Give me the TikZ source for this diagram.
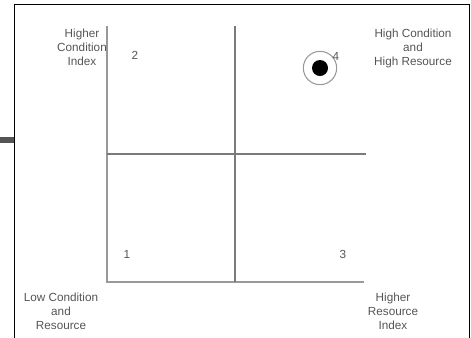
\documentclass[tikz,border=0pt]{standalone}
\usepackage{fontspec}
\setmainfont{Liberation Sans}
\usetikzlibrary{positioning}
\definecolor{labelgray}{HTML}{555555}
\definecolor{axisgray}{HTML}{999999}
\definecolor{midgray}{HTML}{7A7A7A}
\definecolor{tabgray}{HTML}{555555}

\begin{document}
\begin{tikzpicture}[
  x=0.75pt,y=-0.75pt,
  lbl/.style={align=center,text=labelgray,inner sep=0pt,
    font=\fontsize{8.8}{10.5}\selectfont},
  num/.style={text=labelgray,inner sep=0pt,font=\fontsize{8.8}{9}\selectfont},
  axis/.style={draw=axisgray,line width=1.1pt},
  divider/.style={draw=midgray,line width=1.5pt}
]
  \useasboundingbox (0,0) rectangle (471,337);
  % frame and tab
  \fill[tabgray] (0,137) rectangle (14,143);
  \draw[black,line width=1.1pt] (14.5,345) -- (14.5,4.5) -- (469.5,4.5) -- (469.5,345);
  % grid corners
  \coordinate (topl) at (107,26);
  \coordinate (botl) at (107,282);
  \coordinate (topm) at (235,26);
  \coordinate (botm) at (235,282);
  \coordinate (midl) at (107,154);
  \coordinate (midr) at (366,154);
  \coordinate (botr) at (364,282);
  \draw[axis] (topl) -- (botl) -- (botr);
  \draw[divider] (topm) -- (botm);
  \draw[divider] (midl) -- (midr);
  % axis captions
  \node[lbl] (yaxis) at (82,47) {Higher\\Condition\\Index};
  \node[lbl] (best) at (413,48) {High Condition\\and\\High Resource};
  \node[lbl] (worst) at (61,311) {Low Condition\\and\\Resource};
  \node[lbl] (xaxis) at (393,311) {Higher\\Resource\\Index};
  % quadrant numbers
  \node[num] (q2) at (135,55) {2};
  \node[num] (q1) at (127,254) {1};
  \node[num] (q3) at (343,254) {3};
  % marked point
  \node[circle,draw=axisgray,line width=0.8pt,minimum size=25,inner sep=0pt] (ring) at (320,68) {};
  \node[circle,fill=black,minimum size=12,inner sep=0pt] (dot) at (ring) {};
  \node[num] (q4) at (336,56) {4};
\end{tikzpicture}
\end{document}
